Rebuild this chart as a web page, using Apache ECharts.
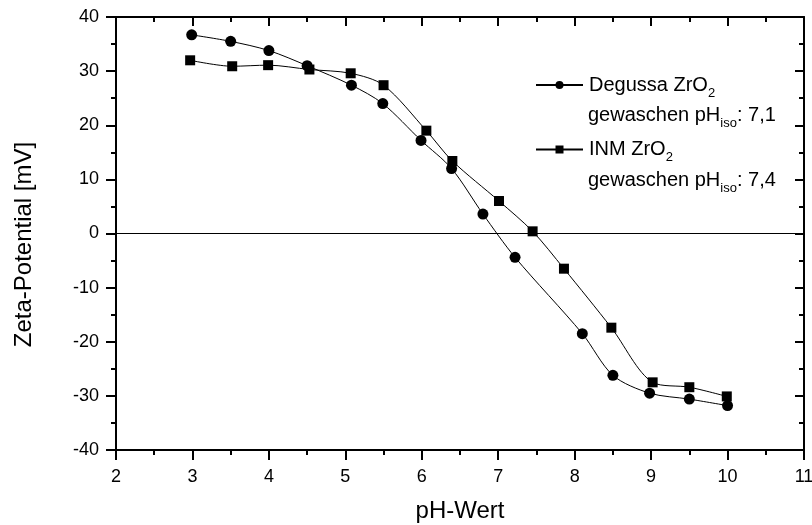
<!DOCTYPE html>
<html>
<head>
<meta charset="utf-8">
<script src="https://cdn.jsdelivr.net/npm/echarts@6/dist/echarts.min.js"></script>
<style>
html,body{margin:0;padding:0;background:#fff;}
#chart{width:812px;height:525px;}
</style>
</head>
<body>
<div id="chart"></div>
<script>
// pH values and zeta potentials (mV)
var phDegussa   = [2.99, 3.5, 4.0, 4.5, 5.08, 5.49, 5.99, 6.39, 6.8, 7.22, 8.1, 8.5, 8.98, 9.5, 10.0];
var zetaDegussa = [36.7, 35.5, 33.8, 31.0, 27.4, 24.0, 17.2, 12.0, 3.6, -4.4, -18.5, -26.2, -29.5, -30.6, -31.8];
var phInm       = [2.97, 3.52, 3.99, 4.53, 5.07, 5.5, 6.06, 6.4, 7.01, 7.45, 7.86, 8.48, 9.02, 9.5, 9.99];
var zetaInm     = [32.0, 30.9, 31.1, 30.3, 29.6, 27.4, 19.0, 13.4, 6.0, 0.4, -6.5, -17.4, -27.5, -28.4, -30.1];

var seriesNames = ['Degussa ZrO2', 'INM ZrO2'];
var legendLabels = ['Degussa ZrO{sub|2}', 'INM ZrO{sub|2}'];
var legendNotes = ['gewaschen pH{sub|iso}: 7,1', 'gewaschen pH{sub|iso}: 7,4'];
var xAxisName = 'pH-Wert';
var yAxisName = 'Zeta-Potential [mV]';

function zip(a, b) { return a.map(function (v, i) { return [v, b[i]]; }); }

var FONT = 'Liberation Sans, Arial, sans-serif';
var subRich = {
  sub: { fontSize: 13, fontFamily: FONT, color: '#000', padding: [16, 0, 0, 0] }
};

var chart = echarts.init(document.getElementById('chart'), null, { renderer: 'canvas' });

var axisCommon = {
  axisLine: { show: true, onZero: false, lineStyle: { color: '#000', width: 2 } },
  splitLine: { show: false }
};

var option = {
  animation: false,
  backgroundColor: '#fff',
  grid: { left: 116, right: 8, top: 17, bottom: 75, containLabel: false, outerBoundsMode: 'none' },
  legend: {
    orient: 'vertical',
    left: 535,
    top: 75,
    padding: 0,
    itemGap: 40,
    itemWidth: 47,
    itemHeight: 10,
    data: seriesNames,
    formatter: function (name) { return legendLabels[seriesNames.indexOf(name)]; },
    textStyle: {
      fontSize: 20, fontFamily: FONT, color: '#000', padding: [0, 0, 0, 1],
      rich: subRich
    }
  },
  graphic: [
    { type: 'text', left: 588, top: 105, style: { text: legendNotes[0], font: '20px ' + FONT, fill: '#000', rich: subRich } },
    { type: 'text', left: 588, top: 170, style: { text: legendNotes[1], font: '20px ' + FONT, fill: '#000', rich: subRich } }
  ],
  xAxis: [
    Object.assign({}, axisCommon, {
      type: 'value', position: 'bottom', min: 2, max: 11, interval: 1,
      name: xAxisName, nameLocation: 'middle', nameGap: 49,
      nameTextStyle: { fontSize: 24, fontFamily: FONT, color: '#000' },
      axisTick: { show: true, inside: false, length: 10, lineStyle: { color: '#000', width: 2 } },
      minorTick: { show: true, splitNumber: 2, length: 5, lineStyle: { color: '#000', width: 2 } },
      axisLabel: { show: true, margin: 18, fontSize: 18, fontFamily: FONT, color: '#000' }
    }),
    Object.assign({}, axisCommon, {
      type: 'value', position: 'top', min: 2, max: 11, interval: 1,
      axisTick: { show: true, inside: true, length: 9, lineStyle: { color: '#000', width: 2 } },
      minorTick: { show: true, splitNumber: 2, length: 5, lineStyle: { color: '#000', width: 2 } },
      axisLabel: { show: false }
    })
  ],
  yAxis: [
    Object.assign({}, axisCommon, {
      type: 'value', position: 'left', min: -40, max: 40, interval: 10,
      name: yAxisName, nameLocation: 'middle', nameGap: 80, nameRotate: 90,
      nameTextStyle: { fontSize: 24, fontFamily: FONT, color: '#000', padding: [0, 22, 0, 0] },
      axisTick: { show: true, inside: false, length: 10, lineStyle: { color: '#000', width: 2 } },
      minorTick: { show: true, splitNumber: 2, length: 5, lineStyle: { color: '#000', width: 2 } },
      axisLabel: { show: true, margin: 17, fontSize: 18, fontFamily: FONT, color: '#000' }
    }),
    Object.assign({}, axisCommon, {
      type: 'value', position: 'right', min: -40, max: 40, interval: 10,
      axisTick: { show: true, inside: true, length: 9, lineStyle: { color: '#000', width: 2 } },
      minorTick: { show: true, splitNumber: 2, length: 5, lineStyle: { color: '#000', width: 2 } },
      axisLabel: { show: false }
    })
  ],
  series: [
    {
      name: seriesNames[0], type: 'line', xAxisIndex: 0, yAxisIndex: 0,
      data: zip(phDegussa, zetaDegussa),
      smooth: 0.3,
      symbol: 'circle', symbolSize: 11,
      lineStyle: { color: '#000', width: 1 },
      itemStyle: { color: '#000' },
      markLine: {
        silent: true, symbol: ['none', 'none'], label: { show: false },
        lineStyle: { color: '#000', width: 1.2, type: 'solid' },
        data: [{ yAxis: 0 }]
      }
    },
    {
      name: seriesNames[1], type: 'line', xAxisIndex: 0, yAxisIndex: 0,
      data: zip(phInm, zetaInm),
      smooth: 0.3,
      symbol: 'rect', symbolSize: 10,
      lineStyle: { color: '#000', width: 1 },
      itemStyle: { color: '#000' }
    }
  ]
};
chart.setOption(option);
</script>
</body>
</html>
